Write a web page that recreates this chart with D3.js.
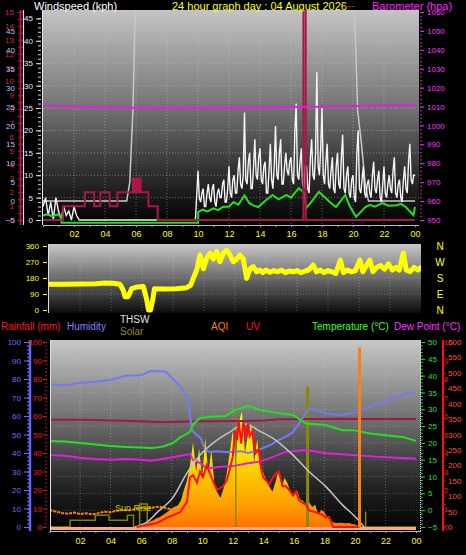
<!DOCTYPE html>
<html><head><meta charset="utf-8">
<script src="https://cdn.jsdelivr.net/npm/d3@7"></script>
<style>body{margin:0;background:#000;overflow:hidden}svg{display:block}</style>
</head><body><svg id="c" width="466" height="555"></svg>
<script>
// ---------- shared ----------
const hourTicks = [2,4,6,8,10,12,14,16,18,20,22,24];
const hourLabels = ["02","04","06","08","10","12","14","16","18","20","22","00"];

// ---------- top chart (wind / barometer) ----------
const windTicks = [0,5,10,15,20,25,30,35,40,45];
const baroTicks = [950,960,970,980,990,1000,1010,1020,1030,1040,1050,1060];
const rateTicks = [0,1,2,3,4,5,6,7,8,9,10,11,12,13,14,15];
const feelTicks = [-5,0,5,10,15,20,25,30,35,40,45];
// gust every 10 minutes 00:00 .. 10:00
const gustEarly10 = [
3,5,1,4,0,5, 2,0,3,1,2,0, 3,1,0,0,0,0,
0,0,0,0,0,0, 0,0,0,0,0,0, 0,0,0,0,0,0, 0,0,0,0,0,0, 0,0,0,0,0,0, 0,0,0,0,0,0, 0,0,0,0,0,0];
// gust every 5 minutes 10:00 .. 24:00
const gustLate5 = [
11,5,4,6,7,3,3,6,8,5,4,7,
8,4,3,6,7,5,5,8,9,4,4,7,
12,6,5,9,10,6,6,11,14,8,7,10,
24,9,8,13,15,7,7,12,18,10,9,14,
16,9,8,12,13,6,6,11,17,9,7,12,
21,10,9,15,18,8,8,12,15,11,10,13,
14,9,8,20,26,10,9,13,16,8,7,12,
12,7,6,14,18,10,9,15,33,12,10,16,
25,10,8,13,17,8,7,11,14,7,6,12,
15,8,7,14,19,7,6,10,12,6,5,9,
10,5,4,15,20,7,6,9,12,6,5,8,
9,6,5,10,13,7,6,9,11,5,4,8,
12,6,5,8,10,7,6,11,14,6,5,8,
9,5,4,9,12,7,6,13,17,9,8,10,
10];
const avgHours = [0,0.3,0.6,0.9,1.15,1.2,10,10.02,10.3,10.6,11,11.3,11.6,12,12.3,12.6,13,13.3,13.6,13.9,14.3,14.8,15.2,15.7,16,16.5,16.8,16.9,17.0,17.3,17.8,18.2,18.5,18.9,19.2,19.5,19.8,20.2,20.5,20.8,21.1,21.4,21.9,22.3,22.8,23.1,23.4,23.9,24];
const avgValues = [1,1.3,0.8,1.2,0.9,-0.6,-0.6,1.8,2.3,1.9,2.6,2.2,2.9,3,4,3.4,5.5,3.8,3.2,2.9,4.2,5.6,4.6,5.6,5,7.1,6.3,4.5,2.7,4,6.3,5,4,2.9,4.2,5.6,3,0.7,1.8,2.9,3.4,3,3.8,3.2,3.3,3.6,2.9,1.1,2.9];
const baroHourly = [1010.6,1010.2,1009.9,1009.7,1009.6,1009.5,1009.4,1009.4,1009.3,1009.3,1009.3,1009.4,1009.4,1009.3,1009.5,1009.8,1009.8,1009.9,1009.9,1010,1010.2,1010.5,1010.6,1010.7,1010.8];
const stepHours = [0,1.3,2.7,3.3,3.7,4.3,4.8,5.4,5.8,5.9,6.0,6.1,6.2,6.3,6.8,7.4,16.8,16.95,24];
const stepValues = [0,1,2,1,2,1,2,2,3,2,3,2,3,2,1,0,15.3,0,0];
const solarTopHours = [0,5.4,5.6,5.8,5.95,20.1,20.3,20.55,20.8,21,24];
const solarTopValues = [0,0,5,24,51,51,24,15,4,0,0];

// ---------- middle chart (wind direction) ----------
const dirTicks = [0,90,180,270,360];
const compass = ["N","E","S","W","N"];
const dirHours = [0,1,2,3,3.6,4.15,4.58,4.8,4.9,5.1,5.33,5.7,6.09,6.3,6.42,6.55,6.7,6.8,7.5,8.2,8.88,9.14,9.35,9.53,9.74,9.96,10.17,10.39,10.6,10.82,11.03,11.25,11.46,11.68,11.89,12.1,12.32,12.54,12.75,12.97,13.18,13.4,13.61,13.8,14.0,14.25,14.5,14.75,15.0,15.25,15.5,15.75,16.0,16.25,16.5,16.75,17.05,17.25,17.5,17.75,18.0,18.25,18.5,18.8,19.0,19.25,19.5,19.75,20.06,20.25,20.5,20.7,20.9,21.15,21.4,21.65,21.9,22.15,22.4,22.6,22.86,23.05,23.3,23.55,23.8,24];
const dirValues = [145,145,146,148,152,150,145,110,75,75,120,130,132,60,0,0,60,120,118,120,125,140,187,225,310,232,292,320,287,330,272,320,337,310,272,286,310,286,178,232,244,215,225,210,225,212,222,215,225,210,220,215,222,210,218,225,253,215,225,210,222,215,205,281,210,225,215,220,281,215,253,281,216,240,250,230,260,225,240,225,320,225,216,240,225,240];

// ---------- bottom chart ----------
const pctTicks = [0,10,20,30,40,50,60,70,80,90,100];
const tempTicks = [-5,0,5,10,15,20,25,30,35,40,45,50];
const uvTicks = [0,1,2,3,4,5,6,7,8,9,10];
const solarTicks = [0,50,100,150,200,250,300,350,400,450,500,550,600];
const humHours = [0,1,2,3,4,5,6,6.6,7.6,8.0,8.5,9.04,9.2,9.35,9.6,9.9,10.2,10.5,11,11.5,12,12.5,13,13.5,14,14.5,15,15.5,15.9,16.35,16.8,17.0,17.5,18.1,18.5,19.2,20,20.7,21.3,22,22.6,23.3,24];
const humValues = [77,76.5,78,78.5,79.5,81.8,82,84.3,84,80.7,76.7,70,60,52,50,48,41.6,40.5,41,40.5,40.5,41,40,41,42.7,44.5,47,49,51,56,62,64,63,61.5,61,60.5,62,64,66,67.7,70,72,73];
const rainHourly = [58,58,58,57.8,57.6,57.4,57.2,56.8,56.8,57,57.2,57.2,57.3,57.3,57.5,58.2,58.3,58.4,58.4,58.5,58.4,58.4,58.4,58.4,58.4];
const tempHours = [0,1,2,3,4,5,6,6.6,7.0,7.5,8.1,8.5,9.2,9.4,9.85,10.5,11.5,12.2,13.0,13.8,14.8,15.95,16.8,18.1,19.2,19.9,20.9,22.0,23.2,24];
const tempValues = [20.6,20.4,20,19.5,19.1,18.8,18.6,18.5,18.6,19,20,21.5,23.3,25.5,27.4,27.8,28,29.8,31,29.8,29,28.3,25.8,25.3,23.8,23.8,22.9,22.3,21.7,20.6];
const dewHours = [0,1,2,3,4,5,6,6.6,7.5,8.5,9.2,9.4,9.9,10.3,11.2,12,12.9,13.7,14.4,15.5,16.8,18.1,19.9,21.4,23.8,24];
const dewValues = [16.4,16.2,15.6,15.2,15.0,15.2,15.0,14.7,15.3,16.1,16.7,14.9,13.9,12.4,12.9,13.1,13.9,14.4,15.4,17.4,17.9,16.9,16.4,15.9,15.4,15.3];
const thswHours = [5.6,6.5,7.0,8.1,9.0,9.85,10.7,11.8,12.8,13.8,14.8,15.95,17.0,18.1,19.2,20.1,20.6];
const thswValues = [0,20,45,97,175,233,272,308,334,310,282,233,179,131,71,29,0];
const solarStart = 5.6, solarStep = 0.2;
const solarValues = [0,3,5,8,12,18,22,28,32,38,45,52,60,66,70,85,120,150,200,275,180,255,160,290,170,250,140,110,95,125,170,240,310,220,340,375,240,300,335,210,285,190,175,150,130,115,145,185,130,160,140,110,100,120,90,85,70,80,65,72,40,55,48,30,22,15,13,14,13,12,13,10,8,4,0];
const uvHours = [5.7,7.0,7.7,8.55,9.0,9.2,9.4,9.66,9.86,10.05,10.3,10.7,10.97,11.36,11.6,11.8,12.0,12.15,12.28,12.4,12.55,12.7,12.87,13.0,13.1,13.3,13.5,13.7,13.85,13.98,14.2,14.4,14.64,14.83,15.0,15.29,15.49,15.7,15.94,16.14,16.34,16.6,16.8,16.99,17.45,17.9,18.1,18.3,18.57,20.3];
const uvValues = [0,0.2,0.5,0.8,1.35,2.7,2.8,2.4,3.0,2.7,3.35,2.5,2.0,2.2,2.5,3.1,3.8,5.2,4.7,5.7,4.5,5.7,4.8,5.6,4.9,5.2,4.0,4.2,3.2,2.7,2.5,2.3,2.7,2.9,3.0,2.2,2.2,2.0,1.7,1.9,1.45,1.3,1.2,0.9,0.8,0.65,0.5,0.55,0,0];
const aqiHours = [0,0.4,0.8,1.2,1.6,2,2.4,2.8,3.2,3.6,4,4.4,4.8,5.2,5.6,6,6.4,6.8,7.2,7.6,8,8.4,8.8,9.3];
const aqiValues = [9.2,8.4,7.6,7.2,7.8,7.0,7.4,6.8,7.5,8.3,8.0,8.8,9.2,9.0,9.6,10.3,10.0,10.6,11,10.2,9.6,9.4,9.7,10.8];
const aqiSpikeHours = [20.3];
const aqiSpikeValues = [97];
const oliveHours = [0,1.35,3.0,3.9,5.1,5.5,5.9,6.4,24];
const oliveValues = [0,22,38,22,38,0,75,0,0];
const oliveSpikeHours = [12.2,16.9,20.7];
const oliveSpikeValues = [400,455,50];

// ---------- drawing ----------
const FONT = "Liberation Sans, Arial, sans-serif";
const svg = d3.select("#c");
const defs = svg.append("defs");
function grad(id, stops){
  const g = defs.append("linearGradient").attr("id",id).attr("x1",0).attr("y1",0).attr("x2",0).attr("y2",1);
  stops.forEach(([o,c])=>g.append("stop").attr("offset",o).attr("stop-color",c));
}
grad("bgTop", [[0,"#c4c4c4"],[0.45,"#747474"],[0.75,"#303030"],[1,"#000"]]);
grad("bgMid", [[0,"#c8c8c8"],[0.5,"#6a6a6a"],[1,"#0c0c0c"]]);
grad("bgBot", [[0,"#c8c8c8"],[0.45,"#686868"],[0.75,"#262626"],[1,"#000"]]);
const sg = defs.append("linearGradient").attr("id","solarFill").attr("gradientUnits","userSpaceOnUse")
  .attr("x1",0).attr("y1",410).attr("x2",0).attr("y2",528);
[[0,"#ffff20"],[0.45,"#ffd800"],[0.8,"#ffa000"],[1,"#ff7000"]].forEach(([o,c])=>sg.append("stop").attr("offset",o).attr("stop-color",c));
function clip(id,x,y,w,h){ defs.append("clipPath").attr("id",id).append("rect").attr("x",x).attr("y",y).attr("width",w).attr("height",h); }

function styleAxis(g, color, size, keepDomain){
  g.attr("font-size",size).attr("font-family",FONT);
  if(!keepDomain) g.select(".domain").remove(); else g.select(".domain").attr("stroke",color);
  g.selectAll(".tick line").attr("stroke",color);
  g.selectAll(".tick text").attr("fill",color);
  return g;
}
function txt(x,y,s,color,size,anchor){
  return svg.append("text").attr("x",x).attr("y",y).text(s).attr("fill",color)
    .attr("font-size",size).attr("font-family",FONT).attr("text-anchor",anchor||"start");
}
const fmtD = d3.format("d");

// ===== TOP =====
const xTop = d3.scaleLinear([0,24],[43,415]);
const yWind = d3.scaleLinear([0,45],[220,18.4]);
const yBaro = d3.scaleLinear([950,1060],[220,12]);
const yRate = d3.scaleLinear([0,15],[220,12]);
const yFeel = d3.scaleLinear([-5,45],[220,31]);
svg.append("rect").attr("x",43).attr("y",10).attr("width",376).attr("height",215).attr("fill","url(#bgTop)");
clip("cTop",43,10,376,215);
const gTop = svg.append("g").attr("clip-path","url(#cTop)");
gTop.selectAll(".vg").data(hourTicks.slice(0,11)).join("line").attr("x1",d=>xTop(d)).attr("x2",d=>xTop(d))
  .attr("y1",10).attr("y2",225).attr("stroke","#c8c8c8").attr("stroke-opacity",0.45).attr("stroke-dasharray","1,2");
gTop.selectAll(".hg").data(windTicks.slice(1)).join("line").attr("y1",d=>yWind(d)).attr("y2",d=>yWind(d))
  .attr("x1",43).attr("x2",419).attr("stroke","#c8c8c8").attr("stroke-opacity",0.45).attr("stroke-dasharray","1,2");
gTop.append("path").attr("d", d3.line().x(d=>xTop(d[0])).y(d=>yFeel(d[1]))(solarTopHours.map((h,i)=>[h,solarTopValues[i]])))
  .attr("fill","none").attr("stroke","#c8c8c8").attr("stroke-width",1.5);
const gustPts = gustEarly10.map((v,i)=>[i/6,v]).concat(gustLate5.map((v,i)=>[10+i/12,v]));
gTop.append("path").attr("d", d3.line().x(d=>xTop(d[0])).y(d=>yWind(d[1]))(gustPts))
  .attr("fill","none").attr("stroke","#f4f4f4").attr("stroke-width",1.4);
gTop.append("path").attr("d", d3.line().x(d=>xTop(d[0])).y(d=>yWind(d[1]))(avgHours.map((h,i)=>[h,avgValues[i]])))
  .attr("fill","none").attr("stroke","#22dd22").attr("stroke-width",2);
gTop.append("path").attr("d", d3.line().curve(d3.curveStepAfter).x(d=>xTop(d[0])).y(d=>yRate(d[1]))(stepHours.map((h,i)=>[h,stepValues[i]])))
  .attr("fill","none").attr("stroke","#a8184a").attr("stroke-width",2);
gTop.append("path").attr("d", d3.line().x((d,i)=>xTop(i)).y(d=>yBaro(d))(baroHourly))
  .attr("fill","none").attr("stroke","#e020e0").attr("stroke-width",2);
svg.append("line").attr("x1",42.5).attr("x2",42.5).attr("y1",10).attr("y2",225).attr("stroke","#e8e8e8");
styleAxis(svg.append("g").attr("transform","translate(41,0)")
  .call(d3.axisLeft(yWind).tickValues(windTicks).tickSize(5).tickPadding(3).tickSizeOuter(0)), "#e8e8ff", 8);
styleAxis(svg.append("g").attr("transform","translate(41,0)")
  .call(d3.axisLeft(yWind).tickValues(d3.range(0,46,1)).tickSize(3).tickFormat("")), "#d0d0d0", 8);
svg.append("line").attr("x1",20.5).attr("x2",20.5).attr("y1",10).attr("y2",225).attr("stroke","#b0184a").attr("stroke-width",2);
styleAxis(svg.append("g").attr("transform","translate(18,0)")
  .call(d3.axisRight(yRate).tickValues(d3.range(0,15.01,0.5)).tickSize(5).tickFormat("")), "#b0184a", 8);
styleAxis(svg.append("g").attr("transform","translate(18,0)")
  .call(d3.axisLeft(yRate).tickValues(rateTicks).tickSize(0).tickPadding(4)), "#d8204a", 8);
svg.append("line").attr("x1",23.5).attr("x2",23.5).attr("y1",10).attr("y2",225).attr("stroke","#dcdcdc").attr("stroke-width",1.2);
styleAxis(svg.append("g").attr("transform","translate(23,0)")
  .call(d3.axisLeft(yFeel).tickValues(feelTicks).tickSize(0).tickPadding(8)), "#b4c4f4", 8);
styleAxis(svg.append("g").attr("transform","translate(420,0)")
  .call(d3.axisRight(yBaro).tickValues(baroTicks).tickFormat(fmtD).tickSize(4).tickPadding(3)), "#ff30ff", 8);
styleAxis(svg.append("g").attr("transform","translate(420,0)")
  .call(d3.axisRight(yBaro).tickValues(d3.range(950,1061,2)).tickSize(2).tickFormat("")), "#c020c0", 8);
svg.append("line").attr("x1",43).attr("x2",419).attr("y1",225.5).attr("y2",225.5).attr("stroke","#bbbbbb");
styleAxis(svg.append("g").attr("transform","translate(0,225)")
  .call(d3.axisBottom(xTop).tickValues(d3.range(0,25)).tickSize(2).tickFormat("")), "#aaaaaa", 9);
styleAxis(svg.append("g").attr("transform","translate(0,225)")
  .call(d3.axisBottom(xTop).tickValues(hourTicks).tickFormat((d,i)=>hourLabels[i]).tickSize(0).tickPadding(6)), "#ffff00", 9);
txt(34,10,"Windspeed (kph)","#ffffff",11);
txt(172,10,"24 hour graph day : 04 August 2026","#ffff00",11);
txt(344,9,"---","#d02020",11);
txt(372,10,"Barometer (hpa)","#ff20ff",11);

// ===== MIDDLE =====
const xDir = d3.scaleLinear([0,24],[49,421]);
const yDir = d3.scaleLinear([0,360],[310,246]);
svg.append("rect").attr("x",48).attr("y",244).attr("width",373).attr("height",69).attr("fill","url(#bgMid)");
clip("cMid",48,244,373,69);
const gMid = svg.append("g").attr("clip-path","url(#cMid)");
gMid.selectAll(".vg").data(hourTicks.slice(0,11)).join("line").attr("x1",d=>xDir(d)).attr("x2",d=>xDir(d))
  .attr("y1",244).attr("y2",313).attr("stroke","#c8c8c8").attr("stroke-opacity",0.35).attr("stroke-dasharray","1,2");
gMid.selectAll(".hg").data(dirTicks.slice(1,4)).join("line").attr("y1",d=>yDir(d)).attr("y2",d=>yDir(d))
  .attr("x1",48).attr("x2",421).attr("stroke","#c8c8c8").attr("stroke-opacity",0.35).attr("stroke-dasharray","1,2");
gMid.append("path").attr("d", d3.line().x(d=>xDir(d[0])).y(d=>yDir(d[1]))(dirHours.map((h,i)=>[h,dirValues[i]])))
  .attr("fill","none").attr("stroke","#ffff00").attr("stroke-width",5).attr("stroke-linejoin","round").attr("stroke-linecap","round");
svg.append("line").attr("x1",48.5).attr("x2",48.5).attr("y1",244).attr("y2",313).attr("stroke","#dddddd");
styleAxis(svg.append("g").attr("transform","translate(47,0)")
  .call(d3.axisLeft(yDir).tickValues(dirTicks).tickSize(4).tickPadding(4)), "#ffff00", 8);
svg.selectAll(".cmp").data(dirTicks).join("text").attr("x",440).attr("y",d=>yDir(d)+4)
  .text((d,i)=>compass[i]).attr("fill","#ffff00").attr("font-size",10).attr("font-family",FONT).attr("text-anchor","middle");

txt(1,330,"Rainfall (mm)","#ff1010",10);
txt(67,330,"Humidity","#8080ff",10);
txt(120,323,"THSW","#e0e0e0",10);
txt(120,335,"Solar","#909000",10);
txt(211,330,"AQI","#ff8000",10);
txt(246,330,"UV","#ff1010",10);
txt(312,330,"Temperature (°C)","#30ff30",10);
txt(394,330,"Dew Point (°C)","#ff30ff",10);

// ===== BOTTOM =====
const xBot = d3.scaleLinear([0,24],[49.5,416]);
const yPct = d3.scaleLinear([0,100],[527,342]);
const yTemp = d3.scaleLinear([-5,50],[527,342]);
const ySolar = d3.scaleLinear([0,600],[527,342]);
const yUV = d3.scaleLinear([0,10],[527,342]);
svg.append("rect").attr("x",50).attr("y",340).attr("width",371).attr("height",191).attr("fill","url(#bgBot)");
clip("cBot",50,340,371,191);
const gBot = svg.append("g").attr("clip-path","url(#cBot)");
gBot.selectAll(".vg").data(hourTicks.slice(0,11)).join("line").attr("x1",d=>xBot(d)).attr("x2",d=>xBot(d))
  .attr("y1",340).attr("y2",531).attr("stroke","#c8c8c8").attr("stroke-opacity",0.4).attr("stroke-dasharray","1,2");
gBot.selectAll(".hg").data(tempTicks.slice(1)).join("line").attr("y1",d=>yTemp(d)).attr("y2",d=>yTemp(d))
  .attr("x1",50).attr("x2",421).attr("stroke","#c8c8c8").attr("stroke-opacity",0.3).attr("stroke-dasharray","1,2");
const L = (xs,ys,xsc,ysc,curve)=>{ const l=d3.line().x(d=>xsc(d[0])).y(d=>ysc(d[1])); if(curve) l.curve(curve); return l(xs.map((h,i)=>[h,ys[i]])); };
gBot.append("path").attr("d", L(oliveHours,oliveValues,xBot,ySolar,d3.curveStepAfter))
  .attr("fill","none").attr("stroke","#808000").attr("stroke-width",1.5);
const solarPts = solarValues.map((v,i)=>[solarStart+i*solarStep, v]);
gBot.append("path").attr("d", d3.area().x(d=>xBot(d[0])).y0(ySolar(0)).y1(d=>ySolar(d[1]))(solarPts))
  .attr("fill","url(#solarFill)");
gBot.selectAll(".os").data(oliveSpikeHours).join("line").attr("x1",d=>xBot(d)).attr("x2",d=>xBot(d))
  .attr("y1",ySolar(0)).attr("y2",(d,i)=>ySolar(oliveSpikeValues[i])).attr("stroke","#8a8a00").attr("stroke-width",(d,i)=>i==1?3:1.5);
gBot.append("path").attr("d", L(d3.range(25),rainHourly,xBot,yPct)).attr("fill","none").attr("stroke","#a01844").attr("stroke-width",2);
gBot.append("path").attr("d", L(humHours,humValues,xBot,yPct)).attr("fill","none").attr("stroke","#7878f0").attr("stroke-width",2);
gBot.append("path").attr("d", L(tempHours,tempValues,xBot,yTemp)).attr("fill","none").attr("stroke","#22e022").attr("stroke-width",2);
gBot.append("path").attr("d", L(dewHours,dewValues,xBot,yTemp)).attr("fill","none").attr("stroke","#e020e0").attr("stroke-width",2);
gBot.append("path").attr("d", L(thswHours,thswValues,xBot,ySolar,d3.curveMonotoneX)).attr("fill","none").attr("stroke","#c4c4c4").attr("stroke-width",1.5);
gBot.append("path").attr("d", L(aqiHours,aqiValues,xBot,yPct)).attr("fill","none").attr("stroke","#ff8000").attr("stroke-width",2).attr("stroke-dasharray","3,1");
gBot.append("line").attr("x1",xBot(0)).attr("x2",xBot(24)).attr("y1",yPct(0)+1.5).attr("y2",yPct(0)+1.5).attr("stroke","#ffa878").attr("stroke-width",3);
gBot.append("path").attr("d", L(uvHours,uvValues,xBot,yUV)).attr("fill","none").attr("stroke","#ff1010").attr("stroke-width",2);
gBot.selectAll(".as").data(aqiSpikeHours).join("line").attr("x1",d=>xBot(d)).attr("x2",d=>xBot(d))
  .attr("y1",yPct(0)).attr("y2",(d,i)=>yPct(aqiSpikeValues[i])).attr("stroke","#ff8010").attr("stroke-width",3);
txt(115,511,"Sun Rise","#c8c800",9);
svg.append("line").attr("x1",50.5).attr("x2",50.5).attr("y1",340).attr("y2",531).attr("stroke","#dddddd");
svg.append("line").attr("x1",50).attr("x2",421).attr("y1",531.5).attr("y2",531.5).attr("stroke","#bbbbbb");
svg.append("line").attr("x1",420.5).attr("x2",420.5).attr("y1",340).attr("y2",531).attr("stroke","#dddddd").attr("stroke-dasharray","1,1");
svg.append("line").attr("x1",30).attr("x2",30).attr("y1",340).attr("y2",531).attr("stroke","#6464ff").attr("stroke-width",2.5);
styleAxis(svg.append("g").attr("transform","translate(29,0)")
  .call(d3.axisLeft(yPct).tickValues(pctTicks).tickSize(5).tickPadding(3)), "#6c6cff", 8);
styleAxis(svg.append("g").attr("transform","translate(29,0)")
  .call(d3.axisLeft(yPct).tickValues(d3.range(0,101,2)).tickSize(2).tickFormat("")), "#6c6cff", 8);
styleAxis(svg.append("g").attr("transform","translate(47,0)")
  .call(d3.axisLeft(yPct).tickValues(pctTicks).tickSize(4).tickPadding(1)), "#ff1010", 8);
styleAxis(svg.append("g").attr("transform","translate(47,0)")
  .call(d3.axisLeft(yPct).tickValues(d3.range(0,101,2)).tickSize(2).tickFormat("")), "#c01010", 8);
styleAxis(svg.append("g").attr("transform","translate(421,0)")
  .call(d3.axisRight(yTemp).tickValues(tempTicks).tickSize(4).tickPadding(3)), "#22e022", 8);
styleAxis(svg.append("g").attr("transform","translate(421,0)")
  .call(d3.axisRight(yTemp).tickValues(d3.range(-5,51,1)).tickSize(2).tickFormat("")), "#22c022", 8);
svg.append("line").attr("x1",443).attr("x2",443).attr("y1",340).attr("y2",531).attr("stroke","#ff1010").attr("stroke-width",2);
styleAxis(svg.append("g").attr("transform","translate(443,0)")
  .call(d3.axisRight(ySolar).tickValues(d3.range(0,601,25)).tickSize(3).tickFormat("")), "#d01010", 8);
styleAxis(svg.append("g").attr("transform","translate(443,0)")
  .call(d3.axisRight(yUV).tickValues(uvTicks).tickSize(0).tickPadding(1)), "#ff1010", 8);
styleAxis(svg.append("g").attr("transform","translate(447,0)")
  .call(d3.axisRight(ySolar).tickValues(solarTicks).tickSize(0).tickPadding(1)), "#ff5028", 8);
styleAxis(svg.append("g").attr("transform","translate(0,531)")
  .call(d3.axisBottom(xBot).tickValues(d3.range(0,25)).tickSize(2).tickFormat("")), "#aaaaaa", 9);
styleAxis(svg.append("g").attr("transform","translate(0,531)")
  .call(d3.axisBottom(xBot).tickValues(hourTicks).tickFormat((d,i)=>hourLabels[i]).tickSize(0).tickPadding(7)), "#ffff00", 9);
</script></body></html>
